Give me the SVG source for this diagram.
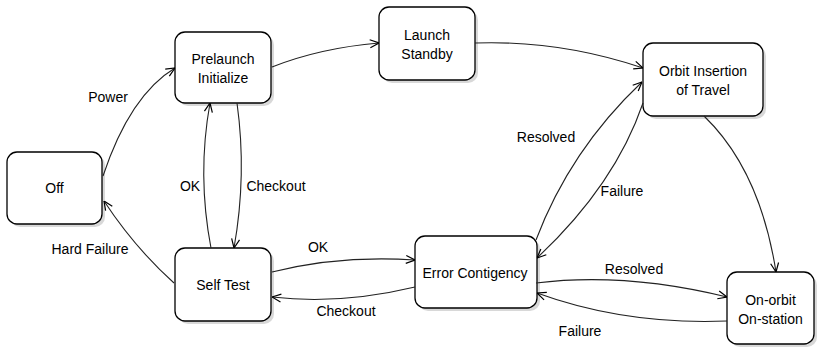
<svg xmlns="http://www.w3.org/2000/svg" width="817" height="347" viewBox="0 0 817 347">
<style>
.shadow{fill:#c8c8c8;stroke:none;opacity:0.7}
.node{fill:#ffffff;stroke:#000000;stroke-width:1.3}
.lbl{font-family:"Liberation Sans",Arial,sans-serif;font-size:14px;fill:#000000;text-anchor:middle}
.edge{fill:none;stroke:#222222;stroke-width:1.1;marker-end:url(#arr)}
.el{font-family:"Liberation Sans",Arial,sans-serif;font-size:14px;fill:#000000;text-anchor:middle}
</style>
<defs>
<marker id="arr" viewBox="0 0 10 10" refX="10" refY="5" markerWidth="10" markerHeight="10" markerUnits="userSpaceOnUse" orient="auto">
<path d="M1,1 L10,5 L1,9" fill="none" stroke="#000000" stroke-width="1.2"/>
</marker>
</defs>
<rect width="817" height="347" fill="#ffffff"/>
<g id="node-off">
<rect class="shadow" x="10" y="155" width="95" height="72" rx="10"/>
<rect class="node" x="7" y="152" width="95" height="72" rx="10"/>
<text class="lbl" x="54.5" y="193">Off</text>
</g>
<g id="node-prelaunch">
<rect class="shadow" x="178" y="35" width="96" height="71" rx="10"/>
<rect class="node" x="175" y="32" width="96" height="71" rx="10"/>
<text class="lbl" x="223" y="64">Prelaunch</text>
<text class="lbl" x="223" y="83">Initialize</text>
</g>
<g id="node-launch">
<rect class="shadow" x="382" y="10" width="96" height="73" rx="10"/>
<rect class="node" x="379" y="7" width="96" height="73" rx="10"/>
<text class="lbl" x="427" y="40">Launch</text>
<text class="lbl" x="427" y="59">Standby</text>
</g>
<g id="node-orbit">
<rect class="shadow" x="646" y="46" width="120" height="73" rx="10"/>
<rect class="node" x="643" y="43" width="120" height="73" rx="10"/>
<text class="lbl" x="703" y="76">Orbit Insertion</text>
<text class="lbl" x="703" y="95">of Travel</text>
</g>
<g id="node-selftest">
<rect class="shadow" x="178" y="251" width="96" height="73" rx="10"/>
<rect class="node" x="175" y="248" width="96" height="73" rx="10"/>
<text class="lbl" x="223" y="290">Self Test</text>
</g>
<g id="node-error">
<rect class="shadow" x="418" y="239" width="122" height="72" rx="10"/>
<rect class="node" x="415" y="236" width="122" height="72" rx="10"/>
<text class="lbl" x="475" y="278">Error Contigency</text>
</g>
<g id="node-onorbit">
<rect class="shadow" x="730" y="275" width="87" height="72" rx="10"/>
<rect class="node" x="727" y="272" width="87" height="72" rx="10"/>
<text class="lbl" x="770.5" y="305">On-orbit</text>
<text class="lbl" x="770.5" y="324">On-station</text>
</g>
<g id="connectors">
<path class="edge" d="M103,176 Q130,95 175,68"/>
<path class="edge" d="M272,67 Q320,48 379,43"/>
<path class="edge" d="M475,43 Q560,40 643,68"/>
<path class="edge" d="M536,240 Q570,150 642,82"/>
<path class="edge" d="M643,103 Q615,185 537,258"/>
<path class="edge" d="M704,116 Q760,170 776,272"/>
<path class="edge" d="M237,103 Q247,175 234,248"/>
<path class="edge" d="M211,248 Q197,175 210,103"/>
<path class="edge" d="M174,283 Q135,248 104,201"/>
<path class="edge" d="M272,272 Q340,255 415,260"/>
<path class="edge" d="M415,287 Q340,305 272,297"/>
<path class="edge" d="M536,283 Q625,272 727,297"/>
<path class="edge" d="M727,321 Q625,325 537,293"/>
<text class="el" x="108" y="102">Power</text>
<text class="el" x="546" y="142">Resolved</text>
<text class="el" x="622" y="196">Failure</text>
<text class="el" x="276" y="191">Checkout</text>
<text class="el" x="190" y="191">OK</text>
<text class="el" x="90" y="254">Hard Failure</text>
<text class="el" x="318" y="252">OK</text>
<text class="el" x="346" y="316">Checkout</text>
<text class="el" x="634" y="274">Resolved</text>
<text class="el" x="580" y="336">Failure</text>
</g>
</svg>
